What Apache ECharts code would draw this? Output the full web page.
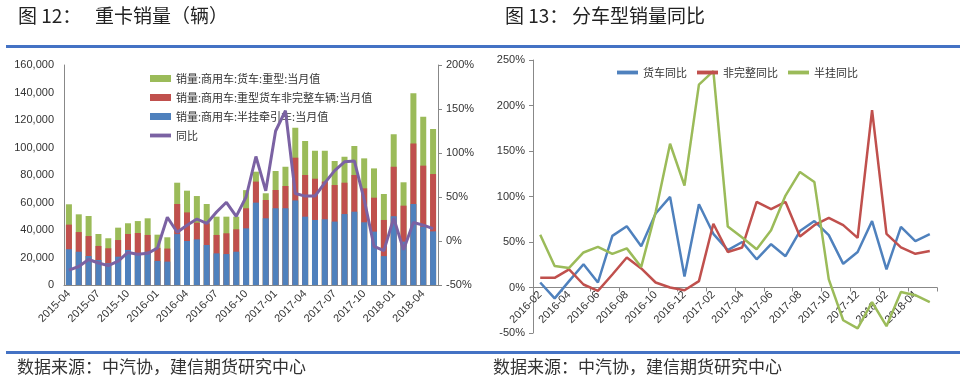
<!DOCTYPE html>
<html><head><meta charset="utf-8">
<script src="https://cdn.jsdelivr.net/npm/echarts@6/dist/echarts.min.js"></script>
<style>html,body{margin:0;padding:0;background:#fff}#c{width:979px;height:389px}</style>
</head><body><div id="c"></div>
<script>
// ---- Figure 12: heavy truck sales ----
const months1 = ['2015-04','2015-05','2015-06','2015-07','2015-08','2015-09','2015-10','2015-11','2015-12',
  '2016-01','2016-02','2016-03','2016-04','2016-05','2016-06','2016-07','2016-08','2016-09','2016-10','2016-11','2016-12',
  '2017-01','2017-02','2017-03','2017-04','2017-05','2017-06','2017-07','2017-08','2017-09','2017-10','2017-11','2017-12',
  '2018-01','2018-02','2018-03','2018-04','2018-05'];
const heavyTruck = [58700,51400,50200,37100,34000,41700,44900,46500,48500,36600,34700,74400,68600,64700,58900,49700,49700,49700,
  69000,82400,66700,82900,86000,114400,104700,97700,97700,90200,93300,101100,92100,84800,66200,109600,74700,139400,122400,113500];
const nonComplete = [43900,38500,35600,28400,26700,32700,37100,37800,36400,27000,26500,58900,52800,45300,44900,36400,37600,40500,
  55800,75200,61800,69100,72000,92600,80000,77300,75200,72700,74400,80000,70300,63500,47300,86000,57700,103000,86800,80700];
const tractor = [26000,24200,21100,18200,15800,20600,25500,23000,24200,17500,17000,37000,32000,33200,29100,23000,22500,24200,
  41200,59900,48500,55800,55800,61500,49700,47300,47800,46100,51600,53300,45600,38800,21000,50000,31500,58900,42400,39000];
const yoy = [-33,-29,-21,-25,-28,-23,-13,-15,-14,-8,27,10,18,25,20,33,44,28,50,96,57,125,148,54,51,51,66,80,90,91,47,-6,-11,26,-10,21,18,14];

// ---- Figure 13: YoY by type ----
const months2 = ['2016-02','2016-03','2016-04','2016-05','2016-06','2016-07','2016-08','2016-09','2016-10','2016-11','2016-12',
  '2017-01','2017-02','2017-03','2017-04','2017-05','2017-06','2017-07','2017-08','2017-09','2017-10','2017-11','2017-12',
  '2018-01','2018-02','2018-03','2018-04','2018-05'];
const truckYoy = [5.5,-12,7,25.6,5.5,56.7,67.4,45.4,81.3,99.6,12,91.5,59,41,50,31,47.6,34.4,62,73,57.5,26,39,73,20,66.6,51,58.6];
const nonCompleteYoy = [10.6,10.6,20,3.3,-3.7,14.3,33,21,5.5,0,-3,7,70,39,44,94,86,94,56,68.5,76.5,68.5,54.5,195,59,44,37,40];
const semiYoy = [58,23.7,21.5,38.5,44.6,37,43,22.6,83,158,112,223,237.7,67,55,42,63,101,127,116,9,-36,-45,-16,-42.5,-5,-8.5,-16];

const cjk = '"Noto Sans CJK SC", sans-serif';
const latin = '"Liberation Sans", sans-serif';
const txt = '#333';
const axisCol = '#888';
const BLUE = '#4F81BD', RED = '#C0504D', GREEN = '#9BBB59', PURPLE = '#7B62A3';
const lineIcon = 'path://M0,0L22,0L22,4L0,4Z';

const chart = echarts.init(document.getElementById('c'), null, {renderer:'canvas'});
const option = {
  animation: false,
  backgroundColor: '#fff',
  textStyle: {fontFamily: cjk},
  graphic: [
    {type:'text', left:18, top:6, style:{text:'图 12：', font:'19px "Noto Sans CJK SC"', fill:'#222'}},
    {type:'text', left:95, top:6, style:{text:'重卡销量（辆）', font:'19px "Noto Sans CJK SC"', fill:'#222'}},
    {type:'text', left:505, top:6, style:{text:'图 13：', font:'19px "Noto Sans CJK SC"', fill:'#222'}},
    {type:'text', left:572, top:6, style:{text:'分车型销量同比', font:'19px "Noto Sans CJK SC"', fill:'#222'}},
    {type:'rect', shape:{x:6, y:45, width:954, height:3}, style:{fill:'#4472C4'}},
    {type:'rect', shape:{x:6, y:351, width:954, height:3}, style:{fill:'#4472C4'}},
    {type:'text', left:17, top:358, style:{text:'数据来源：中汽协，建信期货研究中心', font:'17px "Noto Sans CJK SC"', fill:'#333'}},
    {type:'text', left:493, top:358, style:{text:'数据来源：中汽协，建信期货研究中心', font:'17px "Noto Sans CJK SC"', fill:'#333'}}
  ],
  legend: [
    {left:145, top:68, orient:'vertical', itemWidth:21, itemHeight:7, itemGap:8,
     textStyle:{fontSize:11, color:txt, fontFamily:cjk},
     data:[
       {name:'销量:商用车:货车:重型:当月值', icon:'rect'},
       {name:'销量:商用车:重型货车非完整车辆:当月值', icon:'rect'},
       {name:'销量:商用车:半挂牵引车:当月值', icon:'rect'},
       {name:'同比', icon:lineIcon}
     ]},
    {left:612, top:62, orient:'horizontal', itemWidth:21, itemHeight:7, itemGap:10,
     textStyle:{fontSize:11, color:txt, fontFamily:cjk},
     data:[
       {name:'货车同比', icon:lineIcon},
       {name:'非完整同比', icon:lineIcon},
       {name:'半挂同比', icon:lineIcon}
     ]}
  ],
  grid: [
    {left:64, top:65, width:374, height:220},
    {left:533, top:60, width:404, height:273}
  ],
  xAxis: [
    {type:'category', gridIndex:0, data:months1, boundaryGap:true,
     axisLine:{lineStyle:{color:axisCol}}, axisTick:{show:false},
     axisLabel:{interval:2, rotate:45, fontSize:11, color:txt, margin:7, fontFamily:latin}},
    {type:'category', gridIndex:1, data:months2, boundaryGap:true,
     axisLine:{onZero:true, lineStyle:{color:axisCol}}, axisTick:{show:true, interval:1, length:4, lineStyle:{color:axisCol}},
     axisLabel:{interval:1, rotate:45, fontSize:11, color:txt, margin:-40, fontFamily:latin}}
  ],
  yAxis: [
    {type:'value', gridIndex:0, min:0, max:160000, interval:20000, splitLine:{show:false},
     axisLine:{show:true, lineStyle:{color:axisCol}}, axisTick:{show:false},
     axisLabel:{fontSize:11, color:txt, margin:10, fontFamily:latin,
       formatter:v=>v.toLocaleString('en-US')}},
    {type:'value', gridIndex:0, position:'right', min:-50, max:200, interval:50, splitLine:{show:false},
     axisLine:{show:true, lineStyle:{color:axisCol}}, axisTick:{show:true, length:4, lineStyle:{color:axisCol}},
     axisLabel:{fontSize:11, color:txt, margin:8, fontFamily:latin, formatter:'{value}%'}},
    {type:'value', gridIndex:1, min:-50, max:250, interval:50, splitLine:{show:false},
     axisLine:{show:true, lineStyle:{color:axisCol}}, axisTick:{show:true, length:4, lineStyle:{color:axisCol}},
     axisLabel:{fontSize:11, color:txt, margin:8, fontFamily:latin, formatter:'{value}%'}}
  ],
  series: [
    {name:'销量:商用车:货车:重型:当月值', type:'bar', xAxisIndex:0, yAxisIndex:0, data:heavyTruck,
     barWidth:6, barGap:'-100%', itemStyle:{color:GREEN}, z:2},
    {name:'销量:商用车:重型货车非完整车辆:当月值', type:'bar', xAxisIndex:0, yAxisIndex:0, data:nonComplete,
     barWidth:6, barGap:'-100%', itemStyle:{color:RED}, z:3},
    {name:'销量:商用车:半挂牵引车:当月值', type:'bar', xAxisIndex:0, yAxisIndex:0, data:tractor,
     barWidth:6, barGap:'-100%', itemStyle:{color:BLUE}, z:4},
    {name:'同比', type:'line', xAxisIndex:0, yAxisIndex:1, data:yoy, symbol:'none',
     lineStyle:{color:PURPLE, width:3}, itemStyle:{color:PURPLE}, z:5},
    {name:'货车同比', type:'line', xAxisIndex:1, yAxisIndex:2, data:truckYoy, symbol:'none',
     lineStyle:{color:BLUE, width:2.5}, itemStyle:{color:BLUE}},
    {name:'非完整同比', type:'line', xAxisIndex:1, yAxisIndex:2, data:nonCompleteYoy, symbol:'none',
     lineStyle:{color:RED, width:2.5}, itemStyle:{color:RED}},
    {name:'半挂同比', type:'line', xAxisIndex:1, yAxisIndex:2, data:semiYoy, symbol:'none',
     lineStyle:{color:GREEN, width:2.5}, itemStyle:{color:GREEN}}
  ]
};
chart.setOption(option);
</script>
</body></html>
